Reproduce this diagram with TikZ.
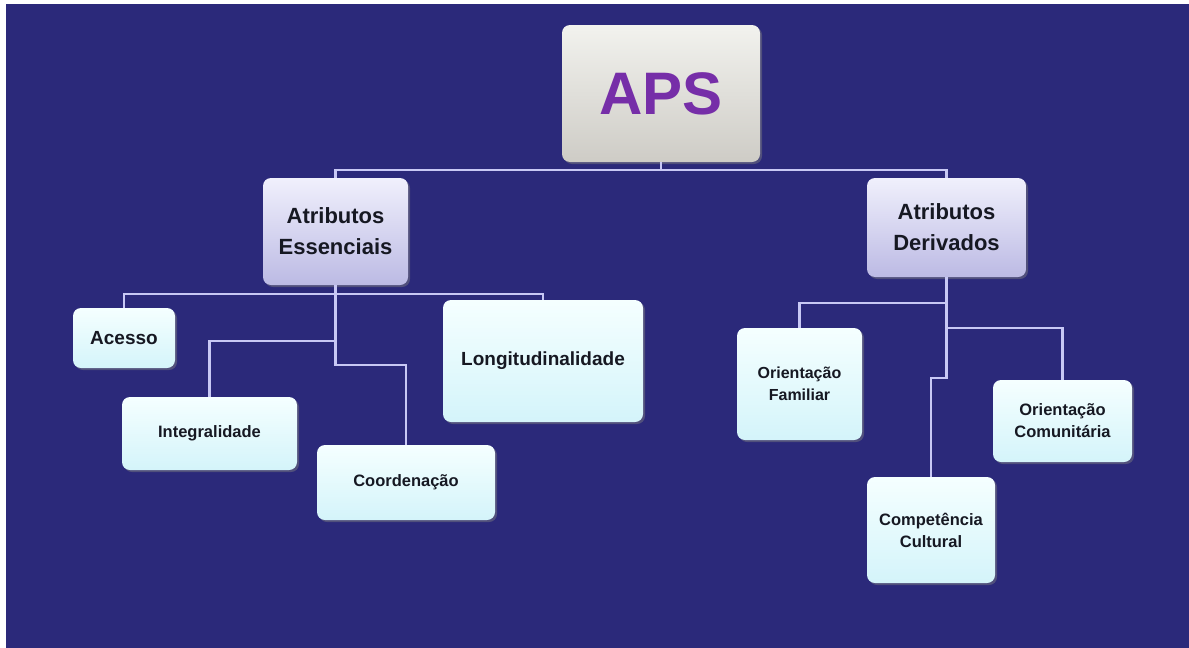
\documentclass[tikz,border=0pt]{standalone}
\usepackage{fontspec}
\setmainfont{Liberation Sans}
\usepackage{tikz}
\usetikzlibrary{positioning, shadows}

\definecolor{bgblue}{RGB}{43,41,122}
\definecolor{linkcol}{RGB}{200,200,245}
\definecolor{txtdark}{RGB}{22,24,34}
\definecolor{apspurple}{RGB}{118,46,168}
\definecolor{leaftop}{RGB}{245,255,255}
\definecolor{leafbot}{RGB}{212,244,250}
\definecolor{attrtop}{RGB}{240,240,252}
\definecolor{attrbot}{RGB}{188,186,228}
\definecolor{apstop}{RGB}{242,242,238}
\definecolor{apsbot}{RGB}{206,204,198}

\begin{document}
\begin{tikzpicture}[x=1pt, y=-1pt,
    box/.style={rounded corners=8pt, inner sep=0pt, align=center,
        text=txtdark, font=\bfseries,
        drop shadow={opacity=0.45, shadow xshift=2pt, shadow yshift=-2pt}},
    leaf/.style={box, top color=leaftop, bottom color=leafbot},
    attr/.style={box, top color=attrtop, bottom color=attrbot,
        font=\bfseries\fontsize{22}{31}\selectfont},
    link/.style={draw=linkcol, line width=2.2pt}]
    \useasboundingbox (0,0) rectangle (1189,648);
    \fill[white] (0,0) rectangle (1189,648);
    \fill[bgblue] (6,4) rectangle (1189,648);

    \node[box, top color=apstop, bottom color=apsbot,
        minimum width=198pt, minimum height=137pt, text=apspurple,
        font=\bfseries\fontsize{60}{60}\selectfont] (aps) at (661, 93.5) {APS};
    \node[attr, minimum width=145pt, minimum height=107pt] (ess) at (335.5, 231.5) {Atributos\\Essenciais};
    \node[attr, minimum width=159pt, minimum height=99pt] (der) at (946.5, 227.5) {Atributos\\Derivados};

    \node[leaf, minimum width=102pt, minimum height=60pt, font=\bfseries\fontsize{19}{22}\selectfont] (acesso) at (124, 338) {Acesso};
    \node[leaf, minimum width=175pt, minimum height=73pt, font=\bfseries\fontsize{16.5}{22}\selectfont] (integ) at (209.5, 433.5) {Integralidade};
    \node[leaf, minimum width=178pt, minimum height=75pt, font=\bfseries\fontsize{16.5}{22}\selectfont] (coord) at (406, 482.5) {Coordenação};
    \node[leaf, minimum width=200pt, minimum height=122pt, font=\bfseries\fontsize{19}{22}\selectfont] (longi) at (543, 361) {Longitudinalidade};

    \node[leaf, minimum width=125pt, minimum height=112pt, font=\bfseries\fontsize{16}{22}\selectfont] (ofam) at (799.5, 384) {Orientação\\Familiar};
    \node[leaf, minimum width=139pt, minimum height=82pt, font=\bfseries\fontsize{16.5}{22}\selectfont] (ocom) at (1062.5, 421) {Orientação\\Comunitária};
    \node[leaf, minimum width=128pt, minimum height=106pt, font=\bfseries\fontsize{16.5}{22}\selectfont] (comp) at (931, 530) {Competência\\Cultural};

    % ligacoes
    \draw[link] (aps.south) -- ++(0,8) -| (ess.north);
    \draw[link] (aps.south) -- ++(0,8) -| (der.north);
    \draw[link] (ess.south) -- ++(0,9) -| (acesso.north);
    \draw[link] (ess.south) -- ++(0,9) -| (longi.north);
    \draw[link] (ess.south) -- ++(0,56) -| (integ.north);
    \draw[link] (ess.south) -- ++(0,80) -| (coord.north);
    \draw[link] (der.south) -- ++(0,26) -| (ofam.north);
    \draw[link] (der.south) -- ++(0,51) -| (ocom.north);
    \draw[link] (der.south) -- ++(0,101) -| (comp.north);
\end{tikzpicture}
\end{document}
